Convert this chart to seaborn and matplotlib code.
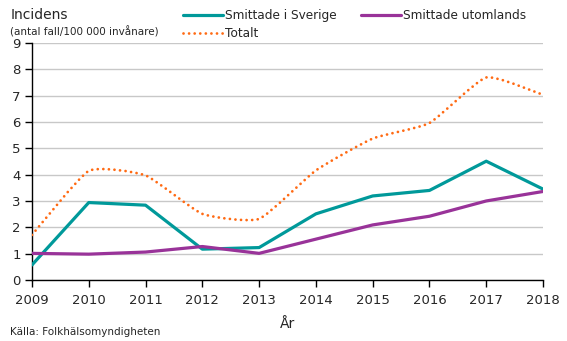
import numpy as np
import pandas as pd
import matplotlib
matplotlib.use("Agg")
import matplotlib.pyplot as plt
import seaborn as sns
from matplotlib.path import Path
from matplotlib.patches import PathPatch
from matplotlib.lines import Line2D

years = [2009, 2010, 2011, 2012, 2013, 2014, 2015, 2016, 2017, 2018]
sverige = [0.57, 2.94, 2.84, 1.17, 1.23, 2.51, 3.19, 3.40, 4.51, 3.45]
utomlands = [1.01, 0.98, 1.06, 1.27, 1.01, 1.55, 2.09, 2.42, 3.00, 3.36]
totalt = [1.71, 4.14, 3.97, 2.51, 2.32, 4.16, 5.37, 5.96, 7.69, 7.03]

colors = {"Smittade i Sverige": "#00999a", "Smittade utomlands": "#993399", "Totalt": "#ff6a13"}
dotted = (0, (0.01, 2.0))

sns.set_style("white")
plt.rcParams["font.family"] = ["DejaVu Sans"]

fig = plt.figure(figsize=(5.67, 3.41), dpi=100)
ax = fig.add_axes([0.0564, 0.179, 0.9013, 0.695])

df = pd.DataFrame({
    "År": years * 2,
    "Incidens": sverige + utomlands,
    "Serie": ["Smittade i Sverige"] * len(years) + ["Smittade utomlands"] * len(years),
})
sns.lineplot(data=df, x="År", y="Incidens", hue="Serie",
             palette=colors, linewidth=2.3, ax=ax, legend=False, zorder=3)

# Smoothed total line: cubic Bezier segments through the yearly values
pts = np.column_stack([years, totalt]).astype(float)
ext = np.vstack([pts[0], pts, pts[-1]])
tension = 1.0 / 12.0
verts = [tuple(pts[0])]
codes = [Path.MOVETO]
for i in range(len(pts) - 1):
    p0, p1, p2, p3 = ext[i], ext[i + 1], ext[i + 2], ext[i + 3]
    c1 = p1 + (p2 - p0) * tension
    c2 = p2 - (p3 - p1) * tension
    verts += [tuple(c1), tuple(c2), tuple(p2)]
    codes += [Path.CURVE4] * 3
patch = PathPatch(Path(verts, codes), facecolor="none", edgecolor=colors["Totalt"],
                  linewidth=2.0, linestyle=dotted, capstyle="round", zorder=4)
ax.add_patch(patch)

ax.set_xlim(2009, 2018)
ax.set_ylim(0, 9)
ax.set_xticks(years)
ax.set_yticks(range(0, 10))
ax.yaxis.grid(True, color="#c8c8c8", linewidth=1.0)
ax.set_axisbelow(True)
for s in ["top", "right"]:
    ax.spines[s].set_visible(False)
for s in ["left", "bottom"]:
    ax.spines[s].set_color("black")
    ax.spines[s].set_linewidth(1.0)
ax.tick_params(axis="both", which="major", direction="out", length=5, width=1,
               color="black", labelsize=9.5, pad=3, left=True, bottom=True)
ax.tick_params(axis="x", pad=5)
ax.set_xlabel("År", fontsize=10, labelpad=7)
ax.set_ylabel("")

fig.text(0.018, 0.955, "Incidens", fontsize=10, ha="left", va="center")
fig.text(0.018, 0.908, "(antal fall/100 000 invånare)", fontsize=7.5, ha="left", va="center")
fig.text(0.018, 0.025, "Källa: Folkhälsomyndigheten", fontsize=7.5, ha="left", va="center")

handles = [
    Line2D([], [], color=colors["Smittade i Sverige"], linewidth=2.3),
    Line2D([], [], color=colors["Totalt"], linewidth=2.0, linestyle=dotted,
           dash_capstyle="round"),
    Line2D([], [], color=colors["Smittade utomlands"], linewidth=2.3),
]
labels = ["Smittade i Sverige", "Totalt", "Smittade utomlands"]
fig.legend(handles, labels, ncol=2, loc="upper left", bbox_to_anchor=(0.31, 0.995),
           frameon=False, fontsize=8.7, handlelength=3.3, handletextpad=0.2,
           columnspacing=2.0, labelspacing=0.45, borderaxespad=0.2)

fig.savefig("out.png", dpi=100)
